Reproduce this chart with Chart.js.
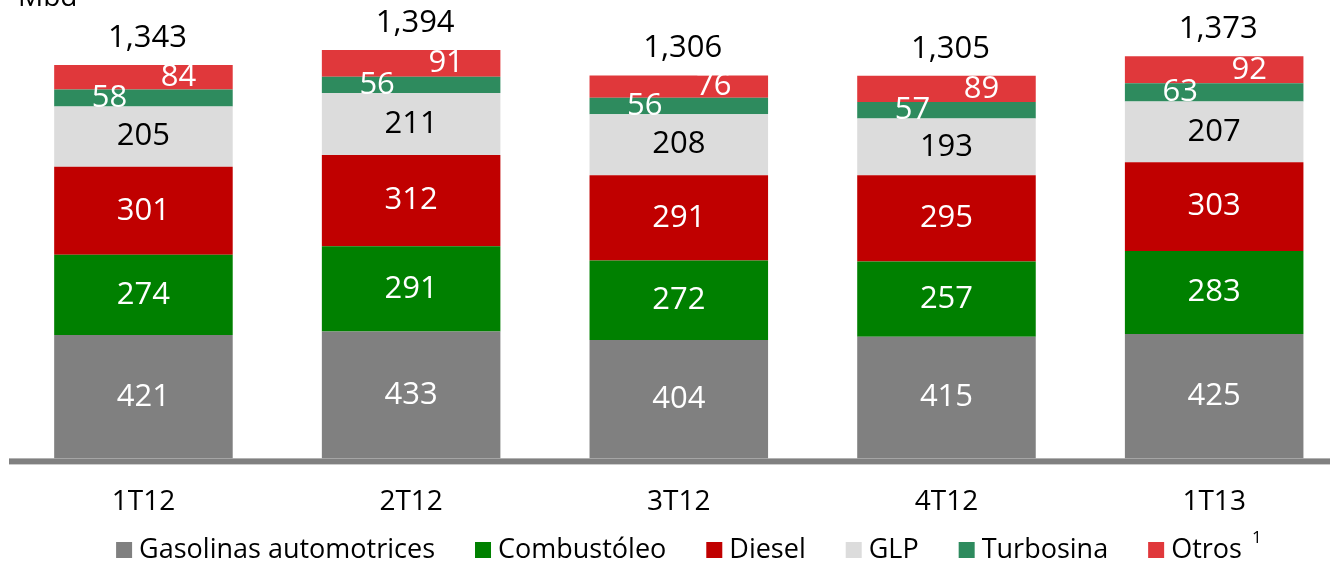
<!DOCTYPE html>
<html>
<head>
<meta charset="utf-8">
<script src="https://cdn.jsdelivr.net/npm/chart.js@4"></script>
<style>
  html, body { margin: 0; padding: 0; background: #fff; overflow: hidden; }
  #wrap { width: 1350px; height: 564px; }
</style>
</head>
<body>
<div id="wrap"><canvas id="ventasChart" width="1350" height="564"></canvas></div>
<script>
const trimestres = ["1T12", "2T12", "3T12", "4T12", "1T13"];
const gasolinas = [421, 433, 404, 415, 425];
const combustoleo = [274, 291, 272, 257, 283];
const diesel = [301, 312, 291, 295, 303];
const glp = [205, 211, 208, 193, 207];
const turbosina = [58, 56, 56, 57, 63];
const otros = [84, 91, 76, 89, 92];
const totales = ["1,343", "1,394", "1,306", "1,305", "1,373"];

const FONT = "'Open Sans', 'Noto Sans', sans-serif";

const series = [
  { label: "Gasolinas automotrices", data: gasolinas, color: "#808080", text: "#fff" },
  { label: "Combustóleo", data: combustoleo, color: "#008000", text: "#fff" },
  { label: "Diesel", data: diesel, color: "#c00000", text: "#fff" },
  { label: "GLP", data: glp, color: "#dcdcdc", text: "#000" },
  { label: "Turbosina", data: turbosina, color: "#2e8b5e", text: "#fff", dx: -34 },
  { label: "Otros", data: otros, color: "#e0383b", text: "#fff", dx: 35, sup: "1" },
];

// etiquetas dentro de cada segmento + totales + eje + leyenda
const extrasPlugin = {
  id: "extras",
  afterDatasetsDraw(chart) {
    const ctx = chart.ctx;
    const area = chart.chartArea;
    ctx.save();

    // linea base gruesa
    ctx.fillStyle = "#808080";
    ctx.fillRect(9, area.bottom, chart.width - 9, 6);

    ctx.textAlign = "center";
    ctx.textBaseline = "middle";
    ctx.font = "31px " + FONT;
    series.forEach((s, i) => {
      const meta = chart.getDatasetMeta(i);
      meta.data.forEach((el, j) => {
        ctx.fillStyle = s.text;
        const y = (el.y + el.base) / 2;
        ctx.fillText(String(s.data[j]), el.x + (s.dx || 0), y);
      });
    });

    const topMeta = chart.getDatasetMeta(series.length - 1);
    ctx.fillStyle = "#000";
    topMeta.data.forEach((el, j) => {
      ctx.fillText(totales[j], el.x + 4, el.y - 27);
    });

    // unidad
    ctx.textAlign = "left";
    ctx.textBaseline = "alphabetic";
    ctx.font = "28px " + FONT;
    ctx.fillText("Mbd", 18, 6);

    // leyenda
    ctx.font = "27px " + FONT;
    const box = 16, gapText = 7, gapItem = 40;
    const widths = series.map((s) => ctx.measureText(s.label).width + (s.sup ? 22 : 0));
    const total = widths.reduce((a, w) => a + box + gapText + w, 0) + gapItem * (series.length - 1);
    let x = 690 - total / 2;
    const ly = 550;
    series.forEach((s, i) => {
      ctx.fillStyle = s.color;
      ctx.fillRect(x, ly - box / 2, box, box);
      ctx.fillStyle = "#000";
      ctx.textBaseline = "middle";
      ctx.fillText(s.label, x + box + gapText, ly);
      if (s.sup) {
        const tw = ctx.measureText(s.label).width;
        ctx.font = "17px " + FONT;
        ctx.fillText(s.sup, x + box + gapText + tw + 10, ly - 12);
        ctx.font = "27px " + FONT;
      }
      x += box + gapText + widths[i] + gapItem;
    });
    ctx.restore();
  },
};

const ctx = document.getElementById("ventasChart").getContext("2d");
new Chart(ctx, {
  type: "bar",
  data: {
    labels: trimestres,
    datasets: series.map((s) => ({
      label: s.label,
      data: s.data,
      backgroundColor: s.color,
      borderWidth: 0,
      categoryPercentage: 1,
      barPercentage: 0.667,
    })),
  },
  options: {
    responsive: false,
    animation: false,
    layout: { padding: { left: 9.6, right: 2, top: 19, bottom: 26 } },
    plugins: {
      legend: { display: false },
      tooltip: { enabled: false },
    },
    scales: {
      x: {
        stacked: true,
        grid: { display: false },
        border: { display: false },
        ticks: { color: "#000", font: { family: FONT, size: 28 }, padding: 19 },
      },
      y: {
        stacked: true,
        display: false,
        min: 0,
        max: 1500,
      },
    },
  },
  plugins: [extrasPlugin],
});
</script>
</body>
</html>
